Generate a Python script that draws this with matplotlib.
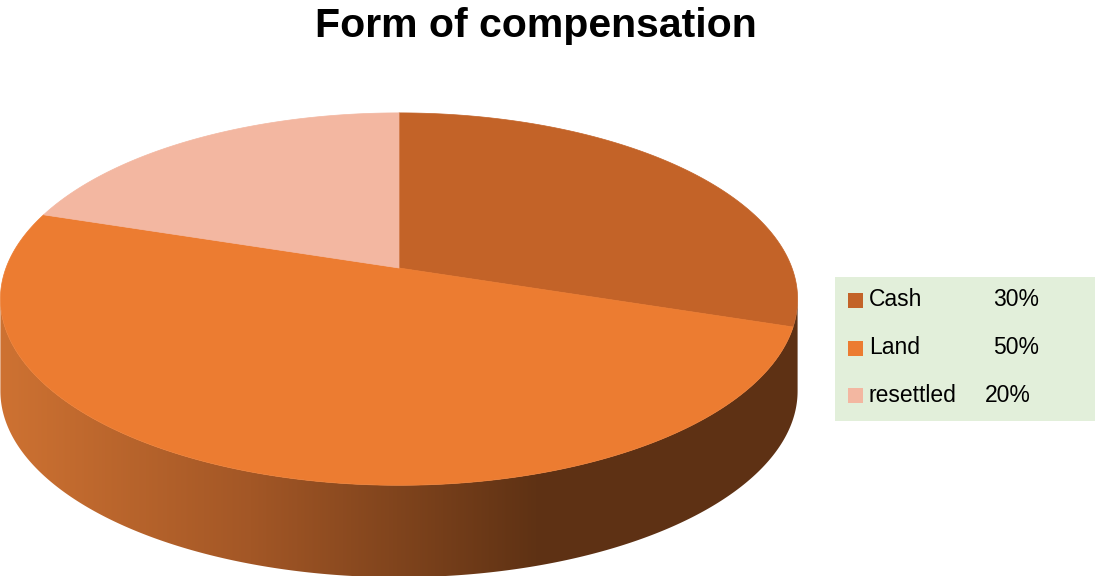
import numpy as np
import matplotlib.pyplot as plt
from matplotlib.patches import Polygon, Rectangle

# data
labels = ['Cash', 'Land', 'resettled']
values = [30, 50, 20]
colors = ['#C36328', '#EC7C31', '#F3B7A1']

fig = plt.figure(figsize=(10.96, 5.76), dpi=100)
ax = fig.add_axes([0, 0, 1, 1])
ax.set_xlim(0, 1096)
ax.set_ylim(576, 0)
ax.axis('off')

# fake perspective for the 3d pie
cx, cy = 399, 268
R, B, k, H = 393, 181, 0.167, 92


def proj(theta, drop=0.0):
    t = np.radians(theta)
    u, v = np.sin(t), np.cos(t)
    s = 1 / (1 + k * v)
    return cx + R * u * s, cy - B * v * s + drop


# side wall (front part), shaded left->right
ta = 90 + np.degrees(np.arcsin(k))
tb = 270 - np.degrees(np.arcsin(k))
th = np.linspace(ta, tb, 300)
xt, yt = proj(th)
xb, yb = proj(th[::-1], H)
side = np.column_stack([np.r_[xt, xb], np.r_[yt, yb]])
side_poly = Polygon(side, closed=True, facecolor='none', edgecolor='none')
ax.add_patch(side_poly)

stops_x = [0, 250, 535, 1096]
stops_c = np.array([[206, 114, 50], [163, 87, 38], [95, 50, 20], [93, 49, 20]]) / 255
xs = np.arange(1096)
grad = np.stack([np.interp(xs, stops_x, stops_c[:, i]) for i in range(3)], axis=-1)
img = ax.imshow(grad[None, :, :], extent=(0, 1096, 576, 0), aspect='auto', zorder=1)
img.set_clip_path(side_poly)

# top faces
start = 0.0
total = sum(values)
for val, col in zip(values, colors):
    end = start + 360 * val / total
    a = np.linspace(start, end, 200)
    px, py = proj(a)
    pts = np.column_stack([np.r_[cx, px], np.r_[cy, py]])
    ax.add_patch(Polygon(pts, closed=True, facecolor=col, edgecolor=col, lw=0.5, zorder=2))
    start = end

ax.set_xlim(0, 1096)
ax.set_ylim(576, 0)

# title
ax.text(536, 37, 'Form of compensation', ha='center', va='baseline',
        fontsize=29.5, fontweight='bold', family='Liberation Sans')

# legend
ax.add_patch(Rectangle((835, 277), 260, 144, facecolor='#E2EFDA', edgecolor='none', zorder=3))
rows = [300, 348, 395]
pct_x = [993, 993, 985]
for lab, val, col, y, px in zip(labels, values, colors, rows, pct_x):
    ax.add_patch(Rectangle((848, y - 7.5), 15, 15, facecolor=col, edgecolor='none', zorder=4))
    ax.text(869, y, lab, va='center', ha='left', fontsize=16.5, family='Liberation Sans', zorder=5)
    ax.text(px, y, f'{val}%', va='center', ha='left', fontsize=16.5, family='Liberation Sans', zorder=5)

fig.savefig('out.png', dpi=100)
